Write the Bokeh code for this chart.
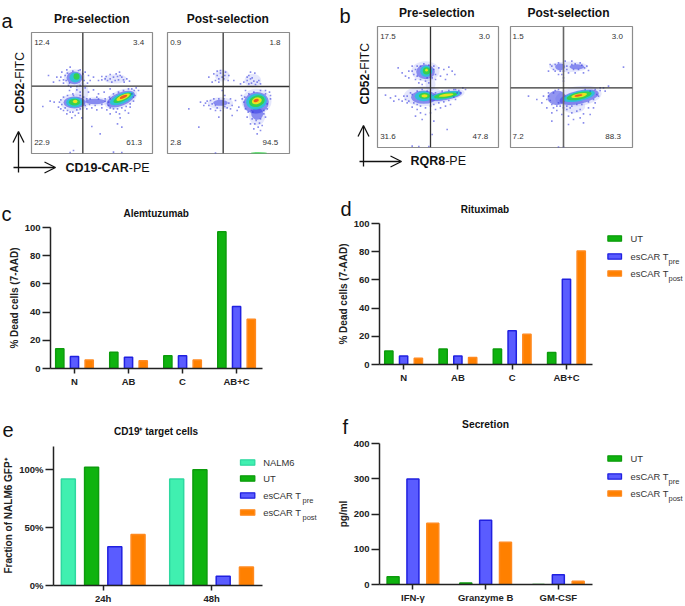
from bokeh.plotting import figure
from bokeh.models import (Span, Arrow, OpenHead, FixedTicker, Range1d)
from bokeh.core.properties import value
from bokeh.embed import file_html
from bokeh.resources import INLINE
import math

FONT = "Liberation Sans"

# ---------- bar data ----------
ab_cats = ["N", "AB", "C", "AB+C"]
alem_ut = [14, 11.5, 9, 97]
alem_pre = [8.5, 8, 9, 44]
alem_post = [6, 5.5, 6, 35]
ritu_ut = [9.5, 11, 11, 8.5]
ritu_pre = [6, 6, 24, 60.5]
ritu_post = [4.5, 5, 21.5, 80.5]
time_cats = ["24h", "48h"]
tgt_nalm = [92, 92]
tgt_ut = [102, 100]
tgt_pre = [33.5, 8]
tgt_post = [44, 16]
sec_cats = ["IFN-γ", "Granzyme B", "GM-CSF"]
sec_ut = [22, 4, 0]
sec_pre = [299, 182, 28]
sec_post = [174, 120, 9]

# ---------- flow data: contour (cx, cy, rx, ry, angle, level) and sparse events ----------
a_pre_q = ["12.4", "3.4", "22.9", "61.3"]
a_post_q = ["0.9", "1.8", "2.8", "94.5"]
b_pre_q = ["17.5", "3.0", "31.6", "47.8"]
b_post_q = ["1.5", "3.0", "7.2", "88.3"]

a_pre_blobs = [(133,142,32,26,0,0),(155,185,20,30,0,0),(255,145,35,14,0,0),(133,216,42,27,0,0),(195,213,45,13,0,0),(272,205,52,26,22,0),
               (133,142,24,19,0,1),(133,216,33,18,0,1),(195,213,30,8,0,1),(272,206,45,20,22,1),
               (135,141,17,15,0,2),(133,216,25,15,0,2),(275,204,38,15,22,2),
               (139,138,9,10,0,3),(133,215,17,10,0,3),(277,202,30,10,25,3),
               (135,213,7,5,0,4),(279,200,22,7,25,4),(280,199,12,4,25,5)]
a_post_blobs = [(273,213,45,38,0,0),(275,255,25,30,0,0),(165,218,38,18,0,0),(170,135,22,18,0,0),(262,150,25,20,0,0),
                (272,217,38,32,10,1),(275,250,18,18,0,1),(165,217,22,9,0,1),(280,368,25,3,0,3),
                (273,213,31,24,10,2),(274,212,24,17,15,3),(274,211,15,10,15,4),(272,210,8,5,15,5)]
b_pre_blobs = [(150,140,42,30,0,0),(165,180,15,20,0,0),(145,215,60,30,0,0),(210,213,58,18,10,0),
               (150,142,28,22,0,1),(145,218,38,20,0,1),(210,214,50,13,10,1),
               (152,140,18,17,0,2),(145,215,27,15,0,2),(210,213,45,11,10,2),
               (153,139,11,11,0,3),(147,214,17,9,0,3),(210,213,35,8,8,3),
               (147,214,9,5,0,4),(212,212,22,4,8,4),(153,137,4,4,0,4)]
b_post_blobs = [(180,127,58,16,0,0),(210,215,70,30,8,0),(195,245,35,22,0,0),
                (155,127,15,10,0,1),(205,127,22,8,0,1),(145,220,28,22,0,1),(212,218,60,20,12,1),
                (212,215,48,15,12,2),(212,214,38,11,12,3),(212,213,24,6,10,4),(210,213,12,3,10,5)]

a_pre_x = [95,105,88,100,110,120,80,70,118,150,165,175,180,190,172,205,215,225,240,250,258,265,275,282,290,245,232,268,298,55,60,72,85,92,100,110,125,135,145,38,155,170,185,200,215,230,240,222,205,190,175,165,150,140,128,118,258,270,262,268,285,300,315,318,310,295,240,275,185,210,130,250,120,275,325,
           112,108,115,122,145,158,162,150,140,128,100,92,95,88,92,105,112,120,128,140,150,165,170,100,112,130,150,160,180,195,205,215,225,235,200,178,240,235,240,250,262,275,288,300,310,312,305,295,280,265,250,238,225,305,215,228,240,255,262,270,280]
a_pre_y = [125,135,150,158,118,110,140,155,158,118,125,135,150,140,158,150,138,145,132,140,130,148,140,155,145,155,150,125,152,135,212,215,230,208,240,250,262,255,248,228,262,235,232,238,232,238,175,185,190,178,185,172,185,178,190,180,245,262,280,250,240,230,195,172,212,248,250,290,288,310,360,365,366,366,180,
           128,150,165,170,120,130,150,165,168,122,148,140,222,215,235,232,240,245,245,238,235,225,205,200,195,195,195,200,205,225,205,222,212,225,200,222,205,215,232,235,235,232,228,220,200,180,175,175,180,185,190,200,205,190,148,138,145,150,138,135,148]
a_post_x = [130,145,155,165,180,190,150,140,160,175,188,235,245,255,268,280,250,270,285,260,205,225,105,115,125,135,150,165,185,200,210,220,230,195,178,170,200,215,70,160,245,255,265,285,290,300,305,315,312,300,240,275,282,150,100,
            228,235,240,248,258,295,305,315,300,285,265,250,238,260,272,285,295,268,278,262,135,145,150,160,175,178,190,195,130,120,140,155,155,165,178,170,160,245,255,265,275,258,250]
a_post_y = [140,130,122,120,125,135,150,155,155,145,150,155,140,125,128,150,160,162,160,142,150,160,215,225,212,235,240,240,232,225,210,230,205,205,195,180,255,240,235,260,260,280,295,300,285,260,235,205,185,180,180,310,278,368,290,
            195,215,235,245,240,240,220,195,190,180,185,190,200,265,270,265,250,280,290,245,210,205,225,205,205,228,218,235,225,218,220,232,135,128,135,140,145,150,145,152,155,158,135]
b_pre_x = [68,80,90,100,110,120,130,140,175,190,205,220,230,215,195,180,210,238,30,45,60,70,80,95,110,125,135,150,165,180,195,210,225,240,255,270,262,175,215,170,140,110,130,160,240,120,55,
           110,115,120,125,135,145,160,175,180,170,150,135,160,155,100,125,85,90,95,100,105,115,125,135,150,165,175,190,205,220,235,245,250,235,220,200,180,165,125,110,140,155]
b_pre_y = [130,145,155,160,125,165,175,180,125,130,135,128,140,150,155,165,165,150,212,220,215,225,230,235,248,255,265,270,265,255,250,245,240,225,205,195,190,290,315,330,285,365,366,366,195,275,230,
           140,150,135,155,125,118,122,135,150,160,170,165,175,160,140,125,215,225,215,230,205,235,240,245,250,245,240,235,232,228,218,205,198,195,198,200,205,205,200,210,195,200]
b_post_x = [125,135,120,150,165,170,190,215,235,240,225,200,180,165,345,60,85,100,115,130,145,160,180,195,215,225,240,260,270,285,300,275,130,225,180,150,165,120,105,290,255,245,
            130,140,150,165,175,190,200,210,220,228,140,155,175,195,160,165,120,125,130,115,135,140,150,155,165,175,190,205,220,240,255,265,275,260,245,230,175,190,205,185,215,150,145,135]
b_post_y = [120,135,140,150,160,110,110,115,125,138,145,145,145,170,128,215,225,235,250,265,258,270,275,285,280,268,250,235,215,190,185,190,290,295,300,368,368,205,215,200,250,270,
            125,120,115,120,125,120,118,135,122,130,140,140,135,135,150,140,215,228,240,225,205,198,195,245,250,245,245,240,240,232,225,210,198,195,200,195,255,265,260,250,255,235,245,250]

LEVEL_COLORS = ["#a9b0f4", "#3a3fe6", "#27c4d6", "#35d24a", "#e8e41f", "#ee5a1e"]
LEVEL_ALPHA = [0.3, 0.55, 0.9, 0.95, 1, 1]

BAR_GREEN = ("#0fb30f", "#0d9c0d")
BAR_BLUE = ("#5a5cff", "#2020e0")
BAR_ORANGE = ("#ff8000", "#ff8a20")
BAR_TEAL = ("#40f0b0", "#2fd8a0")
DARK = "#222222"


def placed(left, top):
    return {"position": "absolute", "left": f"{left}px", "top": f"{top}px"}


# Transparent sheet over the whole page: carries the texts and keys that lie outside the panels' frames.
sheet = figure(width=685, height=606, x_range=Range1d(0, 685), y_range=Range1d(606, 0), min_border=0,
               x_axis_type=None, y_axis_type=None, output_backend="svg", toolbar_location=None, tools="",
               styles=placed(0, 0))
sheet.grid.visible = False
sheet.outline_line_color = None
sheet.background_fill_alpha = 0
sheet.border_fill_alpha = 0


def note(text, x, y, size, bold=False, angle=0, align="left", base="alphabetic", color="#111111"):
    sheet.text([x], [y], text=[text], text_font=value(FONT), text_font_size=f"{size}px",
               text_font_style="bold" if bold else "normal", text_color=color,
               angle=math.radians(angle), text_align=align, text_baseline=base)


def base_fig(pos, w, h, l, r, t, b, xr, yr):
    p = figure(width=w, height=h, x_range=xr, y_range=yr, min_border_left=l, min_border_right=r,
               min_border_top=t, min_border_bottom=b, output_backend="svg", toolbar_location=None,
               tools="", styles=placed(*pos))
    p.grid.visible = False
    p.background_fill_alpha = 0
    p.border_fill_alpha = 0
    return p


def flow(pos, w, h, l, r, t, b, xr, yr, blobs, dx, dy, q, vx, hy, lefts, rights, vcolor="#333333", vwidth=1.3):
    p = base_fig(pos, w, h, l, r, t, b, Range1d(*xr), Range1d(*yr))
    p.axis.visible = False
    p.outline_line_color = "#8c8c8c"
    p.outline_line_width = 1.2
    for lev in range(6):
        rows = [bl for bl in blobs if bl[5] == lev]
        if rows:
            p.ellipse(x=[s[0] for s in rows], y=[s[1] for s in rows],
                      width=[2 * s[2] for s in rows], height=[2 * s[3] for s in rows],
                      angle=[math.radians(s[4]) for s in rows],
                      fill_color=LEVEL_COLORS[lev], fill_alpha=LEVEL_ALPHA[lev], line_color=None)
    p.scatter(dx, dy, marker="square", size=1.6, fill_color="#3a40e0", fill_alpha=0.6, line_color=None)
    p.add_layout(Span(location=vx, dimension="height", line_color=vcolor, line_width=vwidth))
    p.add_layout(Span(location=hy, dimension="width", line_color="#333333", line_width=1.3))
    p.text([lefts[0], lefts[1]], [37, 337], text=[q[0], q[2]], text_font=value(FONT), text_font_size="8px",
           text_color="#333333", text_baseline="middle", text_align="left")
    p.text([rights[0], rights[1]], [37, 337], text=[q[1], q[3]], text_font=value(FONT), text_font_size="8px",
           text_color="#333333", text_baseline="middle", text_align="right")
    return p


def bars(pos, w, h, l, r, t, b, x0, x1, ymax, ticks, cats, series, step, bw, ylabel, tick_labels=None):
    p = base_fig(pos, w, h, l, r, t, b, Range1d(x0, x1), Range1d(0, ymax))
    p.outline_line_color = None
    n = len(series)
    xs0 = list(range(len(cats)))
    for i, (vals, col) in enumerate(series):
        off = (i - (n - 1) / 2) * step
        p.vbar(x=[c + off for c in xs0], top=vals, width=bw, bottom=0,
               fill_color=col[0], line_color=col[1], line_width=1.5)
    xa, ya = p.xaxis[0], p.yaxis[0]
    xa.ticker = FixedTicker(ticks=xs0)
    xa.major_label_overrides = {c: t_ for c, t_ in zip(xs0, cats)}
    ya.ticker = FixedTicker(ticks=ticks)
    if tick_labels:
        ya.major_label_overrides = dict(zip(ticks, tick_labels))
    for ax in (xa, ya):
        ax.axis_line_color = DARK
        ax.axis_line_width = 1.5
        ax.major_tick_line_color = DARK
        ax.major_tick_line_width = 1.5
        ax.minor_tick_line_color = None
        ax.major_tick_in = 0
        ax.major_label_text_font = FONT
        ax.major_label_text_font_size = "9.5px"
        ax.major_label_text_font_style = "bold"
        ax.major_label_text_color = DARK
    xa.major_tick_out = 5
    ya.major_tick_out = 8
    xa.major_label_standoff = 2
    ya.major_label_standoff = 2
    ya.axis_label = ylabel
    ya.axis_label_text_font = FONT
    ya.axis_label_text_font_size = "10px"
    ya.axis_label_text_font_style = "bold"
    ya.axis_label_text_color = DARK
    ya.axis_label_standoff = 2
    return p


def key(x0, x1, ys, names, colors, tx, subx, size=9.4):
    for yc, name, col in zip(ys, names, colors):
        sheet.quad(left=[x0 + 0.7], right=[x1 - 0.7], top=[yc - 2.7], bottom=[yc + 2.7],
                   fill_color=col[0], line_color=col[1], line_width=1.3)
        base, _, sub = name.partition("_")
        note(base, tx, yc, size, base="middle", color="#333333")
        if sub:
            note(sub, subx, yc + 5, 7.5, color="#333333")


# ---------- row 1: flow ----------
H1 = 190
pa1 = flow((0, 0), 160, H1, 31, 8, 32, 37, (4, 367), (369, 6), a_pre_blobs, a_pre_x, a_pre_y, a_pre_q, 158, 167, (12, 12), (342, 335))
pa2 = flow((160, 0), 170, H1, 7, 41, 32, 37, (6, 372), (369, 6), a_post_blobs, a_post_x, a_post_y, a_post_q, 173, 168, (14, 14), (345, 338))
pb1 = flow((330, 0), 173, H1, 47, 5, 26, 43, (6, 369), (369, 6), b_pre_blobs, b_pre_x, b_pre_y, b_pre_q, 165, 190, (14, 14), (343, 338))
pb2 = flow((503, 0), 182, H1, 7, 53, 26, 43, (6, 372), (369, 6), b_post_blobs, b_post_x, b_post_y, b_post_q, 165, 190, (12, 12), (343, 337),
           vcolor="#666666", vwidth=1.6)

for t, x, y in [("Pre-selection", 91.3, 18.5), ("Post-selection", 227.3, 18.5),
                ("Pre-selection", 436.3, 12.7), ("Post-selection", 568, 12.7)]:
    note(t, x, y, 12, bold=True, align="center", base="middle")


def flow_axes(vx, vy0, vy1, hx0, hx1, hy):
    for xs, ys, xe, ye in [(vx, vy0, vx, vy1), (hx0, hy, hx1, hy)]:
        sheet.add_layout(Arrow(end=OpenHead(size=11, line_width=1.3, line_color="#111111"),
                               x_start=xs, y_start=ys, x_end=xe, y_end=ye, line_width=1.3, line_color="#111111"))


flow_axes(18, 172, 131, 13, 55, 167)
flow_axes(363, 166, 125, 359, 401, 161)
note("CD19-CAR", 65, 167, 12.5, bold=True, base="middle")
note("-PE", 128.3, 167, 12.5, base="middle")
note("RQR8", 410, 160, 12.5, bold=True, base="middle")
note("-PE", 444.7, 160, 12.5, base="middle")
note("CD52", 19, 113, 12, bold=True, angle=90, base="middle")
note("-FITC", 19, 82.3, 12, angle=90, base="middle")
note("CD52", 364, 104, 12, bold=True, angle=90, base="middle")
note("-FITC", 364, 73.3, 12, angle=90, base="middle")

# ---------- row 2 ----------
H2 = 205
pc = bars((0, 190), 330, H2, 50, 68, 37, 27, -0.444, 3.48, 100, [0, 20, 40, 60, 80, 100], ab_cats,
          [(alem_ut, BAR_GREEN), (alem_pre, BAR_BLUE), (alem_post, BAR_ORANGE)], 0.272, 0.152, "% Dead cells (7-AAD)")
pd = bars((330, 190), 355, H2, 49, 93, 33, 31, -0.444, 3.48, 100, [0, 20, 40, 60, 80, 100], ab_cats,
          [(ritu_ut, BAR_GREEN), (ritu_pre, BAR_BLUE), (ritu_post, BAR_ORANGE)], 0.272, 0.152, "% Dead cells (7-AAD)")
note("Alemtuzumab", 155.7, 213.3, 10, bold=True, align="center", base="middle")
note("Rituximab", 484.5, 209.3, 10, bold=True, align="center", base="middle")
key(606.7, 621.7, [238, 256, 273], ["UT", "esCAR T_pre", "esCAR T_post"], [BAR_GREEN, BAR_BLUE, BAR_ORANGE], 630, 668)

# ---------- row 3 ----------
H3 = 211
pe = bars((0, 395), 330, H3, 50, 68, 51, 18, -0.4586, 1.47, 120, [0, 50, 100], time_cats,
          [(tgt_nalm, BAR_TEAL), (tgt_ut, BAR_GREEN), (tgt_pre, BAR_BLUE), (tgt_post, BAR_ORANGE)], 0.2145, 0.129,
          "Fraction of NALM6 GFP⁺", tick_labels=["0%", "50%", "100%"])
pf = bars((330, 395), 355, H3, 49, 93, 48, 22, -0.46, 2.47, 400, [0, 100, 200, 300, 400], sec_cats,
          [(sec_ut, BAR_GREEN), (sec_pre, BAR_BLUE), (sec_post, BAR_ORANGE)], 0.273, 0.165, "pg/ml")
note("CD19⁺ target cells", 155.5, 431, 10, bold=True, align="center", base="middle")
note("Secretion", 485, 424, 10.3, bold=True, align="center", base="middle")
key(239.3, 255, [462, 478, 495, 512], ["NALM6", "UT", "esCAR T_pre", "esCAR T_post"],
    [BAR_TEAL, BAR_GREEN, BAR_BLUE, BAR_ORANGE], 262.7, 302)
key(606.7, 621.7, [458, 476, 493], ["UT", "esCAR T_pre", "esCAR T_post"], [BAR_GREEN, BAR_BLUE, BAR_ORANGE], 630, 668)

# ---------- panel letters ----------
for t, x, y in [("a", 1, 20), ("b", 339, 15), ("c", 1, 213), ("d", 340, 208), ("e", 2, 429), ("f", 342, 426)]:
    note(t, x, y, 20)

open("out.html", "w").write(file_html([pa1, pa2, pb1, pb2, pc, pd, pe, pf, sheet], INLINE))
